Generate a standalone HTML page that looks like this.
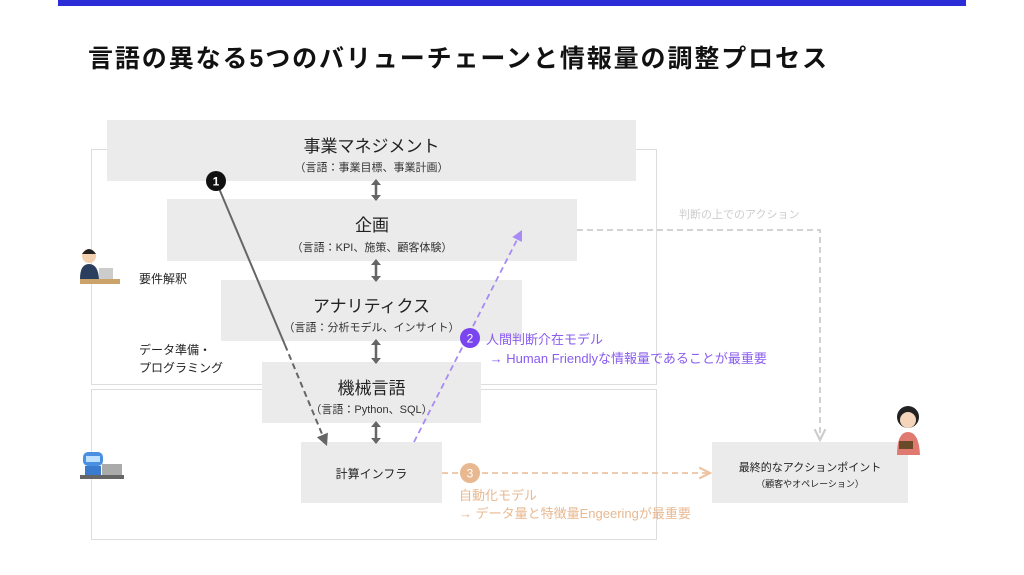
<!DOCTYPE html>
<html><head><meta charset="utf-8"><style>
body{margin:0;width:1024px;height:575px;background:#fff;position:relative;overflow:hidden;font-family:"Liberation Sans","Noto Sans CJK JP",sans-serif;color:#222}
.a{position:absolute}
.box{position:absolute;background:#ebebeb;text-align:center}
.t1{font-size:17px;color:#222}
.t2{font-size:11px;color:#333}
</style></head><body>
<div class="a" style="left:58px;top:0;width:908px;height:6px;background:#2b2ed6"></div>
<div class="a" style="left:88px;top:39px;font-size:25px;font-weight:bold;letter-spacing:1.9px;color:#111">言語の異なる5つのバリューチェーンと情報量の調整プロセス</div>
<div class="a" style="left:91px;top:149px;width:566px;height:236px;border:1.5px solid #ddd;box-sizing:border-box"></div>
<div class="a" style="left:91px;top:389px;width:566px;height:151px;border:1.5px solid #ddd;box-sizing:border-box"></div>

<div class="box" style="left:107px;top:120px;width:529px;height:61px"><div class="t1" style="margin-top:12px">事業マネジメント</div><div class="t2" style="margin-top:2px">（言語：事業目標、事業計画）</div></div>
<div class="box" style="left:167px;top:199px;width:410px;height:62px"><div class="t1" style="margin-top:12px">企画</div><div class="t2" style="margin-top:3px">（言語：KPI、施策、顧客体験）</div></div>
<div class="box" style="left:221px;top:280px;width:301px;height:61px"><div class="t1" style="margin-top:12px">アナリティクス</div><div class="t2" style="margin-top:2px">（言語：分析モデル、インサイト）</div></div>
<div class="box" style="left:262px;top:362px;width:219px;height:61px"><div class="t1" style="margin-top:12px">機械言語</div><div class="t2" style="margin-top:2px">（言語：Python、SQL）</div></div>
<div class="box" style="left:301px;top:442px;width:141px;height:61px"><div style="font-size:12px;margin-top:23px">計算インフラ</div></div>
<div class="box" style="left:712px;top:442px;width:196px;height:61px"><div style="font-size:11px;margin-top:17px">最終的なアクションポイント</div><div style="font-size:9px;margin-top:2px">（顧客やオペレーション）</div></div>

<div class="a" style="left:139px;top:270px;font-size:12px">要件解釈</div>
<div class="a" style="left:139px;top:341px;font-size:12px;line-height:18px">データ準備・<br>プログラミング</div>
<div class="a" style="left:679px;top:206px;font-size:11px;color:#ccc">判断の上でのアクション</div>
<div class="a" style="left:486px;top:330px;font-size:13px;color:#8a5cf0;line-height:19px">人間判断介在モデル<br>&nbsp;→ Human Friendlyな情報量であることが最重要</div>
<div class="a" style="left:459px;top:487px;font-size:13px;color:#e8b890;line-height:18px">自動化モデル<br>→ データ量と特徴量Engeeringが最重要</div>

<svg class="a" style="left:0;top:0" width="1024" height="575">
<defs>
<marker id="g" markerWidth="8" markerHeight="8" refX="6" refY="4" orient="auto"><path d="M0,1 L6,4 L0,7Z" fill="#666"/></marker>
<marker id="p" markerWidth="8" markerHeight="8" refX="6" refY="4" orient="auto"><path d="M0,1 L6,4 L0,7Z" fill="#a88af5"/></marker>
<marker id="o" markerWidth="8" markerHeight="8" refX="6" refY="4" orient="auto"><path d="M0,1 L6,4 L0,7" fill="none" stroke="#eec3a0" stroke-width="1.2"/></marker>
<marker id="l" markerWidth="8" markerHeight="8" refX="6" refY="4" orient="auto"><path d="M0,1 L6,4 L0,7" fill="none" stroke="#ccc" stroke-width="1.2"/></marker>
</defs>
<g stroke="#666" stroke-width="2.5">
<line x1="376" y1="181" x2="376" y2="199"/><line x1="376" y1="261" x2="376" y2="280"/><line x1="376" y1="341" x2="376" y2="362"/><line x1="376" y1="423" x2="376" y2="442"/>
</g>
<g fill="#666">
<path d="M371,185 L376,179 L381,185Z M371,195 L376,201 L381,195Z"/>
<path d="M371,265 L376,259 L381,265Z M371,276 L376,282 L381,276Z"/>
<path d="M371,345 L376,339 L381,345Z M371,358 L376,364 L381,358Z"/>
<path d="M371,427 L376,421 L381,427Z M371,438 L376,444 L381,438Z"/>
</g>
<line x1="218" y1="186" x2="285" y2="345" stroke="#666" stroke-width="2"/>
<line x1="285" y1="345" x2="327" y2="446" stroke="#666" stroke-width="2" stroke-dasharray="6,4" marker-end="url(#g)"/>
<line x1="414" y1="442" x2="522" y2="230" stroke="#a88af5" stroke-width="1.8" stroke-dasharray="6,4" marker-end="url(#p)"/>
<polyline points="577,230 820,230 820,440" fill="none" stroke="#ccc" stroke-width="1.8" stroke-dasharray="6,4" marker-end="url(#l)"/>
<line x1="442" y1="473" x2="710" y2="473" stroke="#eec3a0" stroke-width="1.8" stroke-dasharray="6,4" marker-end="url(#o)"/>
<circle cx="216" cy="181" r="10" fill="#111"/><text x="216" y="185.5" font-size="12" font-weight="bold" fill="#fff" text-anchor="middle" font-family="Liberation Sans">1</text>
<circle cx="470" cy="338" r="10" fill="#7a45ef"/><text x="470" y="342.5" font-size="12" fill="#fff" text-anchor="middle" font-family="Liberation Sans">2</text>
<circle cx="470" cy="473" r="10" fill="#e8b890"/><text x="470" y="477.5" font-size="12" fill="#fff" text-anchor="middle" font-family="Liberation Sans">3</text>
<rect x="80" y="279" width="40" height="5" fill="#c9a36a"/>
<circle cx="89" cy="256" r="7" fill="#f2d0b0"/><path d="M82,254 Q89,244 96,254Z" fill="#222"/>
<path d="M80,279 Q80,264 89,264 Q98,264 99,279Z" fill="#2c3e5e"/>
<rect x="99" y="268" width="14" height="11" fill="#ccc"/>
<rect x="83" y="452" width="20" height="14" rx="5" fill="#4a90e2"/><rect x="86" y="456" width="14" height="6" fill="#bfe0ff"/>
<rect x="85" y="466" width="16" height="10" fill="#3a7bd0"/><rect x="102" y="464" width="20" height="11" fill="#aaa"/>
<rect x="80" y="475" width="44" height="4" fill="#666"/>
<circle cx="908" cy="417" r="11" fill="#222"/><circle cx="908" cy="420" r="8" fill="#f5d6bb"/>
<path d="M897,455 Q897,432 908,432 Q919,432 920,455Z" fill="#e07a70"/><rect x="899" y="441" width="14" height="8" fill="#6b4a2a"/>
</svg>
</body></html>
